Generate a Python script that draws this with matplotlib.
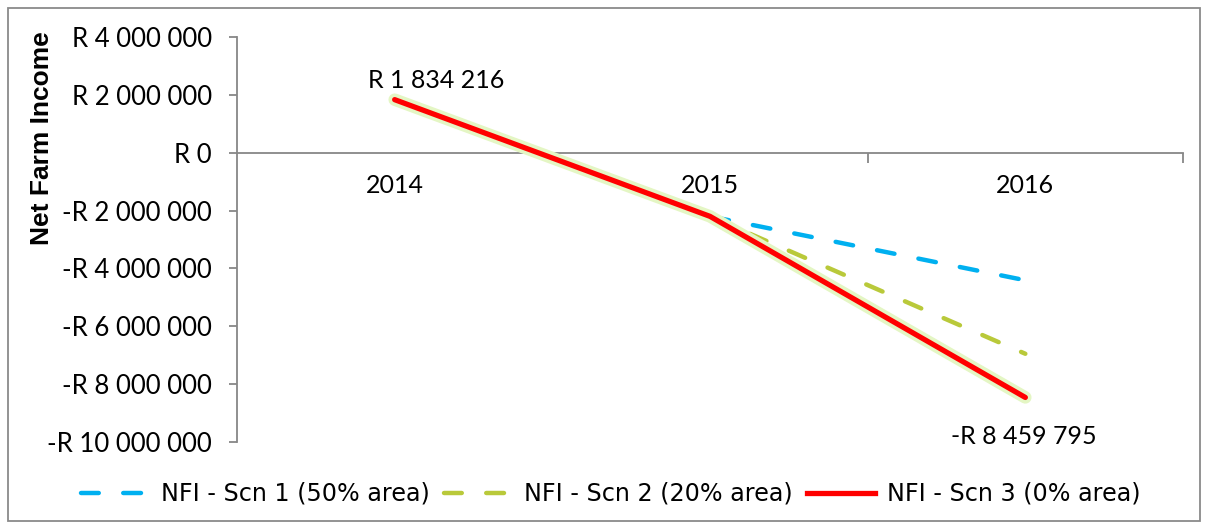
import matplotlib
matplotlib.use("Agg")
import matplotlib.pyplot as plt
import matplotlib.patheffects as pe
from matplotlib.patches import Rectangle
from matplotlib.lines import Line2D
from matplotlib.ticker import FixedLocator, FuncFormatter

years = ["2014", "2015", "2016"]
scn1 = [1834216, -2200000, -4410000]
scn2 = [1834216, -2200000, -6950000]
scn3 = [1834216, -2200000, -8459795]
series_names = ["NFI - Scn 1 (50% area)", "NFI - Scn 2 (20% area)", "NFI - Scn 3 (0% area)"]
yticks = [4000000, 2000000, 0, -2000000, -4000000, -6000000, -8000000, -10000000]

W, H = 1206, 529
plt.rcParams['font.family'] = ["Lato", "DejaVu Sans"]
fig = plt.figure(figsize=(W / 100, H / 100), dpi=100)

ax = fig.add_axes([237 / W, 1 - 442 / H, (1183 - 237) / W, (442 - 37) / H])
ax.set_xlim(-0.5, 2.5)
ax.set_ylim(-10000000, 4000000)

grey = "#878787"
for s in ["top", "right"]:
    ax.spines[s].set_visible(False)
ax.spines["left"].set_color(grey)
ax.spines["bottom"].set_color(grey)
ax.spines["left"].set_linewidth(1.3)
ax.spines["bottom"].set_linewidth(1.3)
ax.spines["bottom"].set_position(("data", 0))

def fmt(v, pos=None):
    v = int(round(v))
    s = f"{abs(v):,}".replace(",", " ")
    return ("-R " if v < 0 else "R ") + s

FS = 18
ax.yaxis.set_major_locator(FixedLocator(yticks))
ax.yaxis.set_major_formatter(FuncFormatter(fmt))
ax.tick_params(axis="y", direction="out", length=6, width=1.3, color=grey, labelsize=18.5, pad=12)

x = list(range(len(years)))
ax.xaxis.set_major_locator(FixedLocator([0.5, 1.5, 2.5]))
ax.xaxis.set_major_formatter(FuncFormatter(lambda v, p: ""))
ax.xaxis.set_minor_locator(FixedLocator(x))
ax.set_xticks(x, years, minor=True)
ax.tick_params(axis="x", which="major", direction="out", length=7, width=1.3, color=grey)
ax.tick_params(axis="x", which="minor", length=0, labelsize=FS, pad=15)

ax.set_ylabel("Net Farm Income", fontsize=19, fontweight="bold", family="Liberation Sans")
ax.yaxis.set_label_coords((54 - 237) / (1183 - 237), (442 - 138) / (442 - 37))

blue = "#00B0F0"
green = "#B9C93A"
red = "#FF0000"
glow = [pe.Stroke(linewidth=9, foreground="#E4F6C4"), pe.Normal()]

ax.plot(x, scn1, color=blue, lw=3.2, dashes=(4, 5.5), dash_capstyle="round", zorder=3)
ax.plot(x, scn2, color=green, lw=3.2, dashes=(4, 5.5), dash_capstyle="round", zorder=3)
ax.plot(x, scn3, color=red, lw=3.8, solid_capstyle="round", zorder=4, path_effects=glow)

ax.annotate(fmt(scn3[0]), (0, scn3[0]), xytext=(30, 14), textcoords="offset points",
            ha="center", va="center", fontsize=FS)
ax.annotate(fmt(scn3[2]), (2, scn3[2]), xytext=(-1, -28), textcoords="offset points",
            ha="center", va="center", fontsize=FS)

handles = [
    Line2D([], [], color=blue, lw=3.2, dashes=(4, 5.5), dash_capstyle="round"),
    Line2D([], [], color=green, lw=3.2, dashes=(4, 5.5), dash_capstyle="round"),
    Line2D([], [], color=red, lw=3.8),
]
leg = fig.legend(handles=handles, labels=series_names, loc="center", bbox_to_anchor=(611 / W, 1 - 494 / H),
                 ncol=3, frameon=False, prop={"family": "DejaVu Sans", "size": 17.2},
                 handlelength=2.85, columnspacing=0.6, handletextpad=0.5, borderpad=0, borderaxespad=0)

fig.patches.append(Rectangle((8 / W, 8 / H), (1200 - 8) / W, (521 - 8) / H, transform=fig.transFigure,
                             fill=False, edgecolor="#8a8a8a", lw=1.3))

fig.savefig("out.png", dpi=100)
